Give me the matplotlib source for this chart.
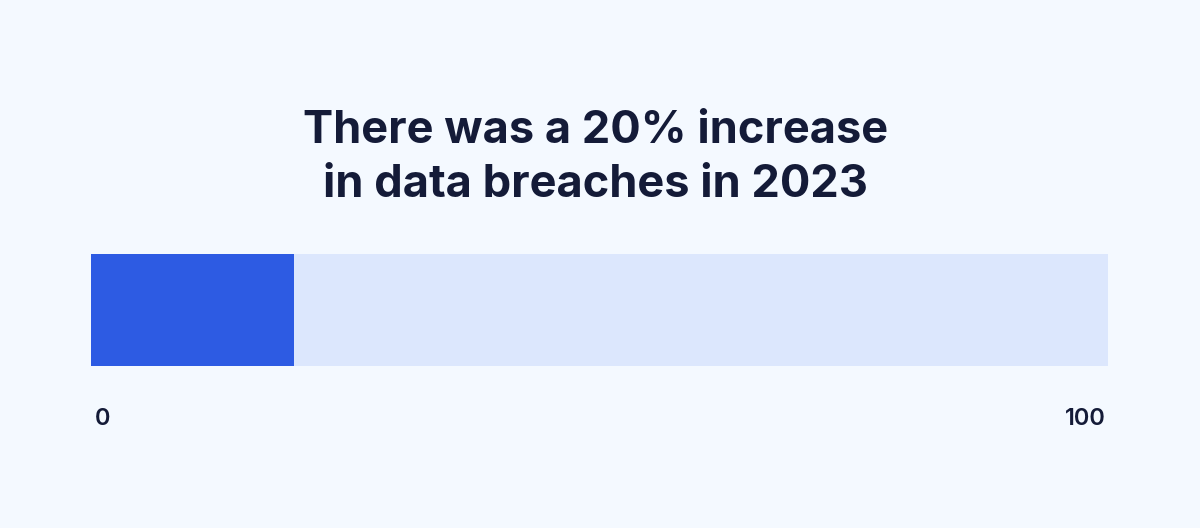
import matplotlib.pyplot as plt

# Data
title_lines = ["There was a 20% increase", "in data breaches in 2023"]
increase_pct = [20]
scale_max = [100]
tick_labels = ["0", "100"]

bg_color = '#F4F9FF'
fill_color = '#2D5BE3'
track_color = '#DCE7FD'
text_color = '#141B38'

W, H = 1200, 528
fig = plt.figure(figsize=(W / 100, H / 100), dpi=100)
fig.patch.set_facecolor(bg_color)

# Bar axes placed in pixel terms
left, right = 91, 1108
top, bottom = 254, 366
ax = fig.add_axes([left / W, 1 - bottom / H, (right - left) / W, (bottom - top) / H])
ax.set_xlim(0, scale_max[0])
ax.set_ylim(-0.5, 0.5)
ax.barh(0, scale_max[0], height=1.0, color=track_color, linewidth=0)
ax.barh(0, increase_pct[0], height=1.0, color=fill_color, linewidth=0)
ax.set_axis_off()

# Title
fig.text(0.496, 1 - 143 / H, title_lines[0], ha='center', va='baseline',
         fontsize=32.5, fontweight='bold', family='Inter', color=text_color)
fig.text(0.496, 1 - 197 / H, title_lines[1], ha='center', va='baseline',
         fontsize=32.5, fontweight='bold', family='Inter', color=text_color)

# Scale labels
fig.text(95 / W, 1 - 425 / H, tick_labels[0], ha='left', va='baseline',
         fontsize=17, fontweight='semibold', family='Inter', color=text_color)
fig.text(1106 / W, 1 - 425 / H, tick_labels[1], ha='right', va='baseline',
         fontsize=17, fontweight='semibold', family='Inter', color=text_color)

fig.savefig('out.png', dpi=100, facecolor=bg_color)
